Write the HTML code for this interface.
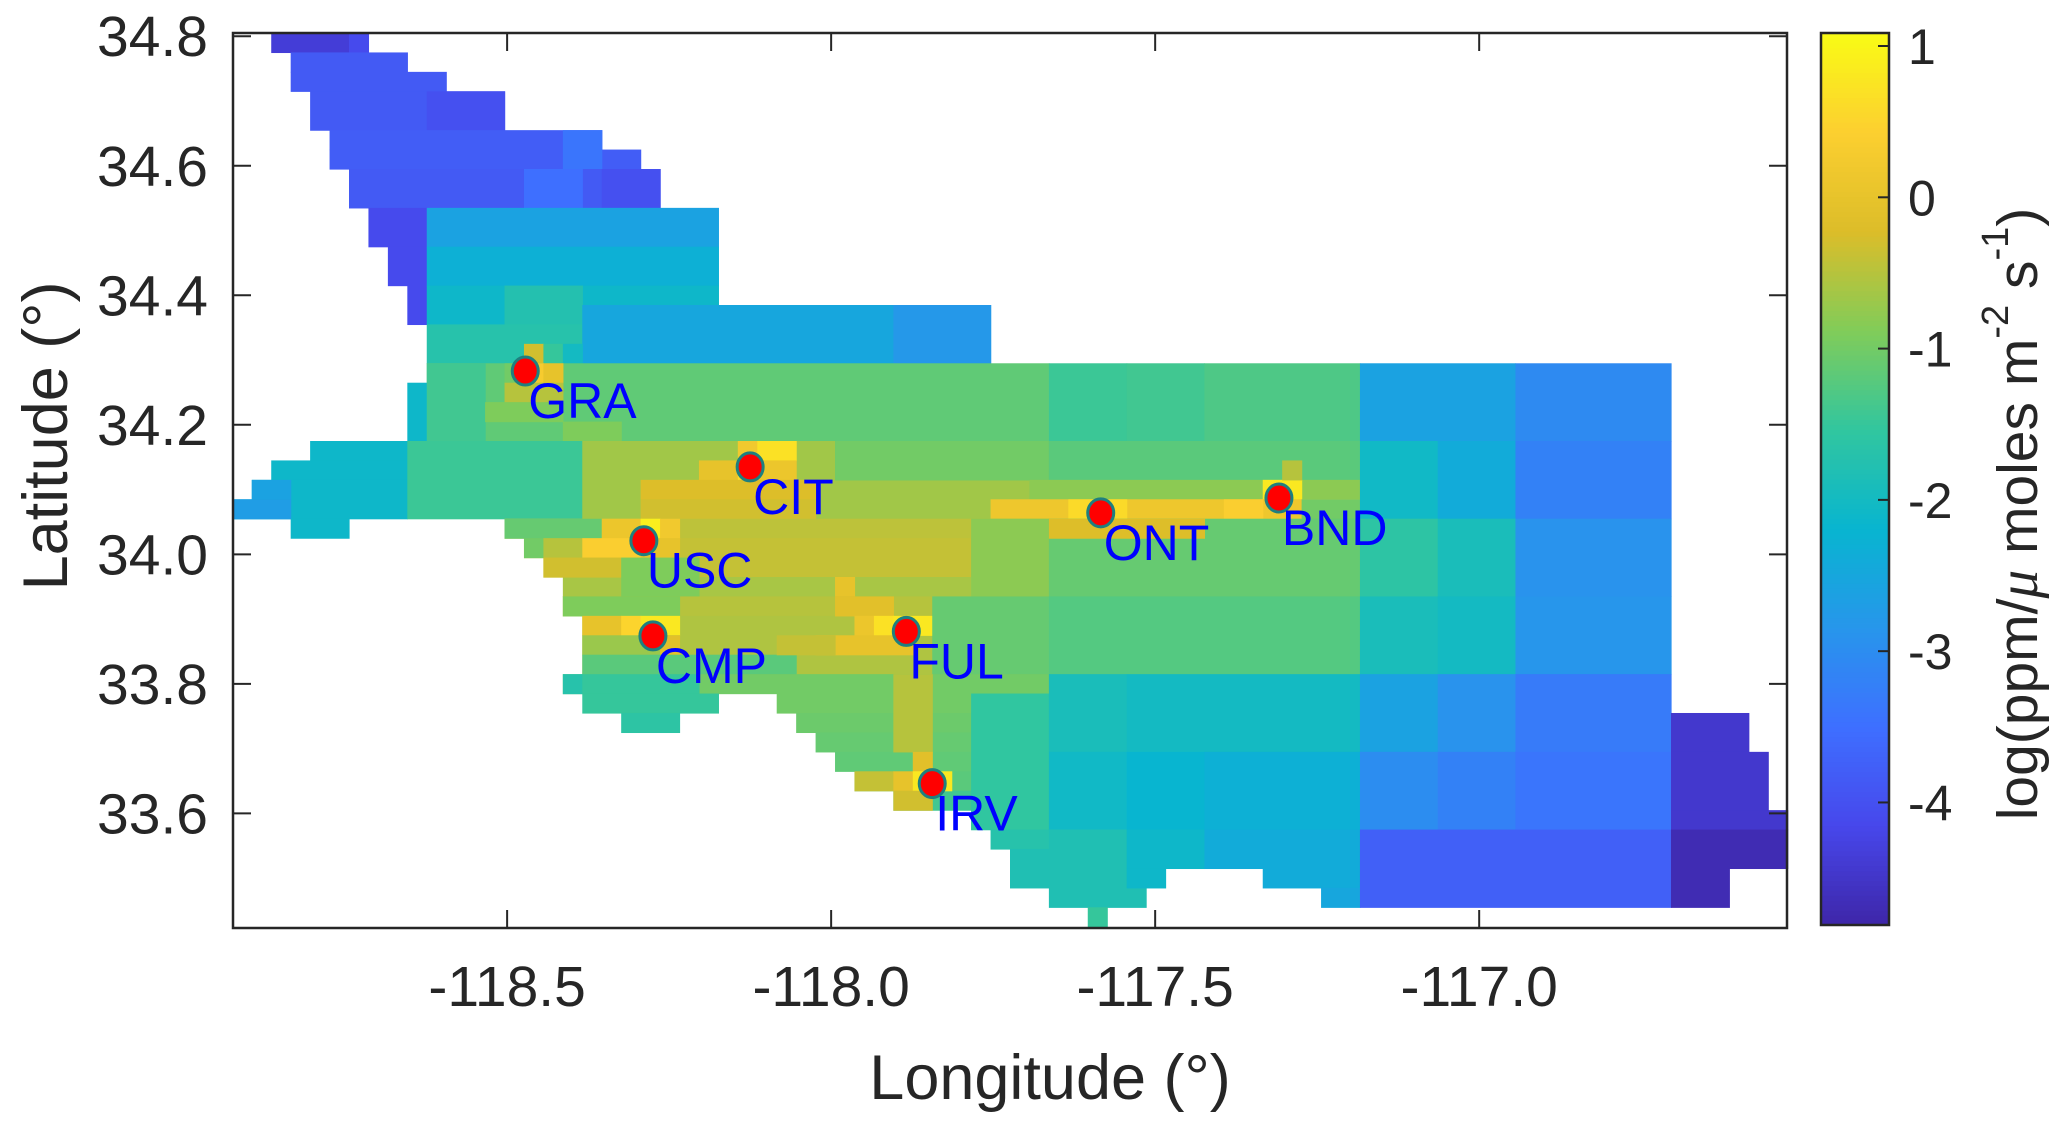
<!DOCTYPE html>
<html>
<head>
<meta charset="utf-8">
<style>
html,body{margin:0;padding:0;background:#fff;}
svg{display:block;}
text{font-family:"Liberation Sans",Arial,sans-serif;fill:#262626;}
</style>
</head>
<body>
<svg id="chart" width="2067" height="1123" viewBox="0 0 2067 1123" xmlns="http://www.w3.org/2000/svg">
  <rect x="0" y="0" width="2067" height="1123" fill="#ffffff"/>
  <g id="cells"></g>
  <g id="sites"></g>
  <g id="axes"></g>
  <g id="cbar"></g>
  <text x="1050" y="1099" font-size="63" text-anchor="middle">Longitude (°)</text>
  <text x="46" y="436" font-size="63" text-anchor="middle" dominant-baseline="central" transform="rotate(-90 46 436)">Latitude  (°)</text>
  <text x="2018" y="514" font-size="57" text-anchor="middle" dominant-baseline="central" transform="rotate(-90 2018 514)">log(ppm/<tspan font-family="Liberation Serif, serif" font-style="italic">μ</tspan> moles m<tspan font-size="38" dy="-22">-2</tspan><tspan dy="22"> s</tspan><tspan font-size="38" dy="-22">-1</tspan><tspan dy="22">)</tspan></text>
</svg>
<script>
// ---- data ----
const xTicks = [-118.5, -118.0, -117.5, -117.0];
const xTickLabels = ["-118.5", "-118.0", "-117.5", "-117.0"];
const yTicks = [34.8, 34.6, 34.4, 34.2, 34.0, 33.8, 33.6];
const yTickLabels = ["34.8", "34.6", "34.4", "34.2", "34.0", "33.8", "33.6"];
const cTicks = [1, 0, -1, -2, -3, -4];
const cTickLabels = ["1", "0", "-1", "-2", "-3", "-4"];
const siteNames = ["GRA", "CIT", "USC", "CMP", "FUL", "IRV", "ONT", "BND"];
const siteLon = [-118.472, -118.125, -118.289, -118.275, -117.884, -117.844, -117.584, -117.309];
const siteLat = [34.283, 34.135, 34.021, 33.874, 33.881, 33.646, 34.064, 34.087];
// grid cells: [lonWest, lonEast, latNorth, latSouth, log flux]
const cellData = [
[-118.864,-118.744,34.805,34.775,-4.35],[-118.744,-118.714,34.805,34.775,-4.1],
[-118.834,-118.654,34.775,34.745,-3.85],[-118.834,-118.594,34.745,34.715,-3.85],
[-118.804,-118.504,34.715,34.655,-3.85],[-118.624,-118.504,34.715,34.655,-4.0],
[-118.774,-118.354,34.655,34.625,-3.8],[-118.774,-118.294,34.625,34.595,-3.8],
[-118.414,-118.354,34.655,34.595,-3.4],[-118.744,-118.264,34.595,34.535,-3.85],
[-118.474,-118.384,34.595,34.535,-3.5],[-118.354,-118.264,34.595,34.535,-4.0],
[-118.714,-118.624,34.535,34.475,-4.1],[-118.684,-118.624,34.475,34.415,-4.1],
[-118.654,-118.624,34.415,34.355,-4.1],
[-118.624,-118.174,34.535,34.475,-2.6],[-118.624,-118.174,34.475,34.415,-2.3],
[-118.624,-118.174,34.415,34.355,-2.1],[-118.504,-118.384,34.415,34.355,-1.75],
[-118.624,-118.384,34.355,34.295,-1.7],[-118.384,-117.754,34.385,34.295,-2.5],
[-117.904,-117.754,34.385,34.295,-2.8],[-118.474,-118.444,34.325,34.295,-0.3],
[-118.444,-118.414,34.325,34.295,-1.5],[-118.414,-118.384,34.325,34.295,-2.0],
[-118.624,-117.664,34.295,34.175,-1.15],[-118.654,-118.624,34.265,34.175,-2.1],
[-118.624,-118.534,34.295,34.175,-1.4],
[-118.504,-118.474,34.295,34.265,-1.0],[-118.474,-118.444,34.295,34.265,0.3],
[-118.444,-118.414,34.295,34.265,0.0],[-118.504,-118.414,34.265,34.235,-0.5],
[-118.534,-118.414,34.235,34.205,-0.9],[-118.414,-118.324,34.205,34.175,-0.9],
[-117.664,-117.544,34.295,34.175,-1.45],[-117.544,-117.424,34.295,34.175,-1.4],
[-117.424,-117.184,34.295,34.175,-1.3],[-117.184,-116.944,34.295,34.175,-2.6],
[-116.944,-116.704,34.295,34.175,-3.05],
[-118.804,-118.654,34.175,34.145,-2.1],[-118.864,-118.654,34.145,34.115,-2.1],
[-118.894,-118.654,34.115,34.085,-2.1],[-118.894,-118.834,34.115,34.085,-2.6],
[-118.924,-118.654,34.085,34.055,-2.1],[-118.924,-118.834,34.085,34.055,-2.7],
[-118.654,-118.384,34.175,34.055,-1.45],[-118.384,-117.664,34.175,34.055,-0.65],
[-117.994,-117.664,34.175,34.115,-1.0],
[-118.144,-118.114,34.175,34.145,0.2],[-118.114,-118.054,34.175,34.145,0.7],
[-118.204,-118.144,34.145,34.115,0.0],[-118.144,-118.114,34.145,34.115,0.6],
[-118.114,-118.054,34.145,34.115,0.1],[-118.294,-118.024,34.115,34.085,-0.2],
[-118.294,-118.024,34.085,34.055,-0.3],
[-117.664,-117.184,34.175,34.115,-1.2],[-117.694,-117.184,34.115,34.085,-0.8],
[-117.334,-117.274,34.115,34.085,0.8],[-117.304,-117.274,34.145,34.115,-0.5],
[-117.754,-117.184,34.085,34.055,0.15],[-117.634,-117.544,34.085,34.055,0.6],
[-117.394,-117.334,34.085,34.055,0.4],[-117.274,-117.184,34.085,34.055,-1.0],
[-117.184,-117.064,34.175,34.055,-2.05],[-117.064,-116.944,34.175,34.055,-2.4],
[-116.944,-116.704,34.175,34.055,-3.2],
[-118.834,-118.744,34.055,34.025,-2.1],
[-118.504,-117.664,34.055,34.025,-0.45],[-118.474,-117.664,34.025,33.995,-0.4],
[-118.444,-117.664,33.995,33.965,-0.4],[-118.414,-117.664,33.965,33.935,-0.6],
[-118.504,-118.354,34.055,34.025,-1.1],[-118.354,-118.294,34.055,34.025,0.1],
[-118.294,-118.264,34.055,34.025,0.9],[-118.264,-118.234,34.055,34.025,0.2],
[-118.474,-118.444,34.025,33.995,-1.0],[-118.444,-118.384,34.025,33.995,-0.5],
[-118.384,-118.294,34.025,33.995,0.4],[-118.294,-118.234,34.025,33.995,0.0],
[-118.444,-118.324,33.995,33.965,-0.3],[-118.324,-118.204,33.995,33.935,-0.9],
[-117.784,-117.664,34.055,33.935,-0.8],[-117.994,-117.964,33.965,33.935,0.0],
[-117.664,-117.184,34.055,33.935,-1.1],[-117.664,-117.424,34.055,34.025,-0.2],
[-117.184,-117.064,34.055,33.935,-1.6],[-117.064,-116.944,34.055,33.935,-1.9],
[-116.944,-116.704,34.055,33.935,-2.9],
[-118.414,-117.664,33.935,33.905,-0.5],[-118.384,-117.664,33.905,33.815,-0.55],
[-118.414,-118.234,33.935,33.905,-0.9],
[-118.384,-118.324,33.905,33.875,0.0],[-118.324,-118.294,33.905,33.875,0.5],
[-118.294,-118.234,33.905,33.875,0.8],[-118.384,-118.234,33.875,33.845,-0.7],
[-118.264,-118.234,33.875,33.845,-0.1],[-118.384,-118.054,33.845,33.815,-1.2],
[-117.994,-117.904,33.935,33.905,-0.1],[-117.964,-117.934,33.905,33.875,0.1],
[-117.934,-117.904,33.905,33.875,0.7],[-117.904,-117.844,33.905,33.875,0.8],
[-118.024,-117.874,33.875,33.845,0.0],[-117.844,-117.664,33.935,33.815,-1.1],
[-118.084,-117.994,33.875,33.845,-0.4],
[-117.664,-117.184,33.935,33.815,-1.25],[-117.184,-117.064,33.935,33.815,-1.9],
[-117.064,-116.944,33.935,33.815,-2.0],[-116.944,-116.704,33.935,33.815,-2.85],
[-118.414,-117.664,33.815,33.785,-1.0],[-118.414,-118.384,33.815,33.785,-1.7],
[-118.384,-118.204,33.815,33.785,-1.5],[-118.384,-118.174,33.785,33.755,-1.5],
[-118.084,-117.664,33.785,33.755,-1.0],[-118.324,-118.234,33.755,33.725,-1.6],
[-118.054,-117.664,33.755,33.725,-1.05],[-118.024,-117.664,33.725,33.695,-1.1],
[-117.994,-117.664,33.695,33.665,-1.15],[-117.964,-117.664,33.665,33.635,-1.2],
[-117.904,-117.664,33.635,33.605,-1.4],[-117.784,-117.664,33.605,33.575,-1.6],
[-117.904,-117.844,33.815,33.695,-0.5],[-117.784,-117.664,33.785,33.575,-1.55],
[-117.874,-117.844,33.695,33.665,-0.1],[-117.964,-117.904,33.665,33.635,-0.4],
[-117.904,-117.874,33.665,33.635,0.0],[-117.874,-117.814,33.665,33.635,0.8],
[-117.904,-117.844,33.635,33.605,-0.3],
[-117.754,-117.664,33.575,33.545,-1.7],[-117.724,-117.664,33.545,33.485,-1.8],
[-117.664,-117.544,33.815,33.695,-1.9],[-117.544,-117.184,33.815,33.695,-2.0],
[-117.184,-117.064,33.815,33.695,-2.6],[-117.064,-116.944,33.815,33.695,-2.9],
[-116.944,-116.704,33.815,33.695,-3.3],
[-117.664,-117.544,33.695,33.575,-2.05],[-117.544,-117.424,33.695,33.575,-2.2],
[-117.424,-117.184,33.695,33.575,-2.3],[-117.184,-117.064,33.695,33.575,-3.0],
[-117.064,-116.944,33.695,33.575,-3.2],[-116.944,-116.704,33.695,33.575,-3.4],
[-117.664,-117.544,33.575,33.485,-1.8],[-117.664,-117.514,33.485,33.455,-1.8],
[-117.544,-117.424,33.575,33.515,-2.1],[-117.544,-117.484,33.515,33.485,-2.1],
[-117.424,-117.184,33.575,33.515,-2.4],[-117.334,-117.184,33.515,33.485,-2.4],
[-117.244,-117.184,33.485,33.455,-2.5],[-117.184,-116.704,33.575,33.455,-3.75],
[-117.604,-117.574,33.455,33.423,-1.5],
[-116.704,-116.584,33.755,33.695,-4.45],[-116.704,-116.554,33.695,33.605,-4.45],
[-116.704,-116.524,33.605,33.575,-4.45],[-116.704,-116.524,33.575,33.515,-4.7],
[-116.704,-116.614,33.515,33.455,-4.7]
];
// ---- scales ----
const X0=233,X1=1787,Y0=33,Y1=928;
const LON0=-118.923,LON1=-116.525,LAT0=33.423,LAT1=34.805;
function xs(lon){return X0+(lon-LON0)/(LON1-LON0)*(X1-X0);}
function ys(lat){return Y1-(lat-LAT0)/(LAT1-LAT0)*(Y1-Y0);}
const CMIN=-4.81,CMAX=1.086,CB_X=1821,CB_W=68,CB_T=33,CB_B=925;
function cy(v){return CB_B-(v-CMIN)/(CMAX-CMIN)*(CB_B-CB_T);}
const parula=[[62,38,168],[71,71,235],[62,111,255],[39,150,235],[8,181,208],[49,198,159],[129,204,89],[220,189,41],[252,207,48],[249,251,21]];
function cmap(v){
  let t=(v-CMIN)/(CMAX-CMIN); t=Math.max(0,Math.min(1,t));
  const f=t*(parula.length-1); const k=Math.min(parula.length-2,Math.floor(f)); const u=f-k;
  const a=parula[k],b=parula[k+1];
  return 'rgb('+[0,1,2].map(i=>Math.round(a[i]+(b[i]-a[i])*u)).join(',')+')';
}
const NS='http://www.w3.org/2000/svg';
function mk(tag,attrs,parent){const e=document.createElementNS(NS,tag);for(const k in attrs)e.setAttribute(k,attrs[k]);parent.appendChild(e);return e;}
// ---- cells ----
const gCells=document.getElementById('cells');
cellData.forEach(function(c){
  const x=xs(c[0]),x2=xs(c[1]),y=ys(Math.min(c[2],LAT1)),y2=ys(Math.max(c[3],LAT0));
  const r=mk('rect',{x:x.toFixed(2),y:y.toFixed(2),width:(x2-x+0.6).toFixed(2),height:(y2-y+0.6).toFixed(2),fill:cmap(c[4])},gCells);
  
  
});
// ---- sites ----
const gSites=document.getElementById('sites');
siteNames.forEach(function(n,i){
  const x=xs(siteLon[i]),y=ys(siteLat[i]);
  const c=mk('ellipse',{cx:x,cy:y,rx:13,ry:14,fill:'#ff0000',stroke:'#1f7f7f','stroke-width':3},gSites);
  
  
  const t=mk('text',{x:x+3,y:y+47,'font-size':50},gSites);
  t.textContent=n;
  t.style.fill='#0000ff';
  
  
});
// ---- axes ----
const gAx=document.getElementById('axes');
const box=mk('rect',{x:X0,y:Y0,width:X1-X0,height:Y1-Y0,fill:'none',stroke:'#262626','stroke-width':2.5},gAx);


xTicks.forEach(function(v,i){
  const x=xs(v);
  const t1=mk('line',{x1:x,x2:x,y1:Y1,y2:Y1-18,stroke:'#262626','stroke-width':2},gAx);
  
  
  const t2=mk('line',{x1:x,x2:x,y1:Y0,y2:Y0+18,stroke:'#262626','stroke-width':2},gAx);
  
  
  const l=mk('text',{x:x,y:1006,'font-size':57,'text-anchor':'middle'},gAx);
  l.textContent=xTickLabels[i];
  
  
});
yTicks.forEach(function(v,i){
  const y=ys(v);
  const t1=mk('line',{x1:X0,x2:X0+18,y1:y,y2:y,stroke:'#262626','stroke-width':2},gAx);
  
  
  const t2=mk('line',{x1:X1,x2:X1-18,y1:y,y2:y,stroke:'#262626','stroke-width':2},gAx);
  
  
  const l=mk('text',{x:208,y:y+20,'font-size':57,'text-anchor':'end'},gAx);
  l.textContent=yTickLabels[i];
  
  
});
// ---- colorbar ----
const gCb=document.getElementById('cbar');
const N=180;
for(let k=0;k<N;k++){
  const v0=CMIN+(CMAX-CMIN)*k/N, v1=CMIN+(CMAX-CMIN)*(k+1)/N;
  const r=mk('rect',{x:CB_X,y:cy(v1),width:CB_W,height:cy(v0)-cy(v1)+0.6,fill:cmap((v0+v1)/2)},gCb);
  
  
}
const cbBox=mk('rect',{x:CB_X,y:CB_T,width:CB_W,height:CB_B-CB_T,fill:'none',stroke:'#262626','stroke-width':2.5},gCb);


cTicks.forEach(function(v,i){
  const y=cy(v);
  const t=mk('line',{x1:CB_X+CB_W,x2:CB_X+CB_W-11,y1:y,y2:y,stroke:'#262626','stroke-width':2},gCb);
  
  
  const l=mk('text',{x:1908,y:y+18,'font-size':50},gCb);
  l.textContent=cTickLabels[i];
  
  
});
</script>
</body>
</html>
